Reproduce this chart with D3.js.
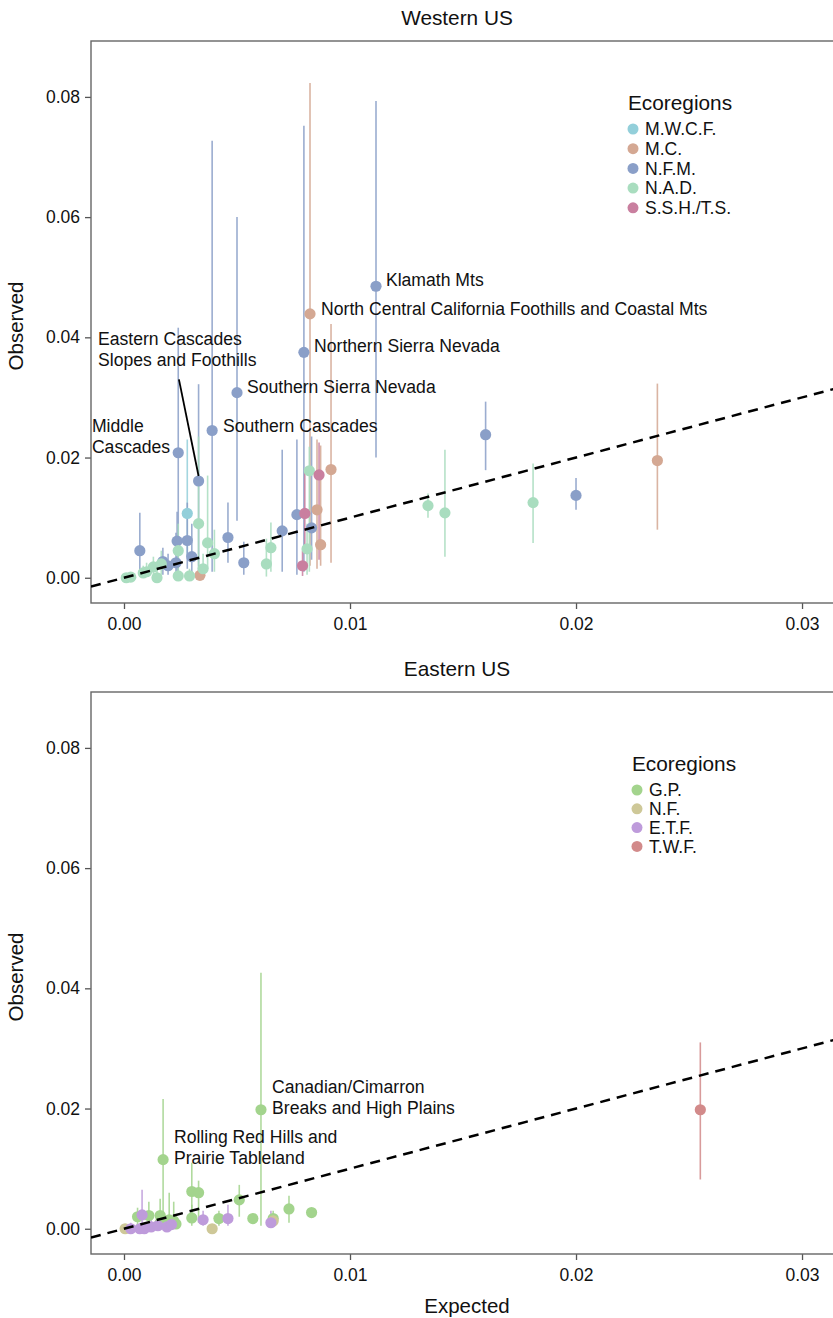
<!DOCTYPE html>
<html>
<head>
<meta charset="utf-8">
<script src="https://cdn.jsdelivr.net/npm/d3@7"></script>
<style>
  body { margin: 0; background: #fff; }
  svg { display: block; font-family: "Liberation Sans", Arial, Helvetica, sans-serif; }
</style>
</head>
<body>
<svg id="chart" width="833" height="1318"></svg>
<script>
// ---------------- DATA ----------------
const xTicks = [0, 0.01, 0.02, 0.03];
const yTicks = [0, 0.02, 0.04, 0.06, 0.08];
const panelTitles = ["Western US", "Eastern US"];
const xTitle = "Expected";
const yTitle = "Observed";
const legendTitle = "Ecoregions";

const westCategories = ["M.W.C.F.", "M.C.", "N.F.M.", "N.A.D.", "S.S.H./T.S."];
const westColors = ["#93cfda", "#d4a893", "#8a9fc8", "#a9ddbf", "#c97f9f"];
const eastCategories = ["G.P.", "N.F.", "E.T.F.", "T.W.F."];
const eastColors = ["#a3d48d", "#cec898", "#be9bdb", "#d28a8a"];

// [expected, observed, lower, upper]
const westMWCF = [
  [0.0028, 0.0107, 0.0035, 0.0230]
];
const westMC = [
  [0.00823, 0.0439, 0.0020, 0.0823],
  [0.00916, 0.0180, 0.0025, 0.0422],
  [0.00854, 0.0113, 0.0015, 0.0230],
  [0.0087, 0.0055, 0.0020, 0.0220],
  [0.00336, 0.0004, 0.0001, 0.0010],
  [0.0236, 0.0195, 0.0080, 0.0323]
];
const westNFM = [
  [0.01115, 0.0485, 0.0200, 0.0793],
  [0.00796, 0.0375, 0.0010, 0.0752],
  [0.0050, 0.0308, 0.0095, 0.0600],
  [0.0039, 0.0245, 0.0010, 0.0727],
  [0.0024, 0.0208, 0.0005, 0.0416],
  [0.0033, 0.0161, 0.0010, 0.0322],
  [0.0007, 0.0045, 0.0003, 0.0108],
  [0.00235, 0.0061, 0.0010, 0.0110],
  [0.0028, 0.0062, 0.0015, 0.0125],
  [0.0030, 0.0035, 0.0005, 0.0090],
  [0.00172, 0.0027, 0.0005, 0.0050],
  [0.00195, 0.0020, 0.0005, 0.0040],
  [0.0023, 0.0025, 0.0003, 0.0075],
  [0.0046, 0.0067, 0.0025, 0.0125],
  [0.0053, 0.0025, 0.0005, 0.0060],
  [0.0070, 0.0078, 0.0010, 0.0213],
  [0.00765, 0.0105, 0.0005, 0.0230],
  [0.0083, 0.0083, 0.0030, 0.0235],
  [0.0160, 0.0238, 0.0179, 0.0293],
  [0.0200, 0.0137, 0.0113, 0.0166]
];
const westNAD = [
  [0.0082, 0.0178, 0.0010, 0.0218],
  [0.0033, 0.0090, 0.0020, 0.0235],
  [0.0037, 0.0058, 0.0015, 0.0170],
  [0.0040, 0.0040, 0.0010, 0.0080],
  [0.0024, 0.0045, 0.0005, 0.0090],
  [0.0065, 0.0050, 0.0010, 0.0092],
  [0.0063, 0.0023, 0.0002, 0.0065],
  [0.0081, 0.0048, 0.0005, 0.0090],
  [0.0035, 0.0015, 0.0003, 0.0040],
  [0.0029, 0.0003, 0.0000, 0.0015],
  [0.0024, 0.0003, 0.0000, 0.0012],
  [0.00146, 0.0000, 0.0000, 0.0015],
  [0.00085, 0.0008, 0.0000, 0.0020],
  [0.0001, 0.0000, 0.0000, 0.0005],
  [0.0003, 0.0001, 0.0000, 0.0006],
  [0.0010, 0.0010, 0.0002, 0.0025],
  [0.0013, 0.0018, 0.0005, 0.0035],
  [0.00165, 0.0023, 0.0005, 0.0045],
  [0.01345, 0.0120, 0.0100, 0.0140],
  [0.0142, 0.0108, 0.0035, 0.0213],
  [0.0181, 0.0125, 0.0058, 0.0190]
];
const westSSH = [
  [0.00863, 0.0171, 0.0030, 0.0225],
  [0.0080, 0.0107, 0.0040, 0.0180],
  [0.0079, 0.0020, 0.0003, 0.0045]
];

const eastGP = [
  [0.00606, 0.0198, 0.0005, 0.0426],
  [0.00173, 0.0115, 0.0005, 0.0216],
  [0.0030, 0.0062, 0.0010, 0.0110],
  [0.0033, 0.0060, 0.0010, 0.0080],
  [0.0051, 0.0048, 0.0020, 0.0073],
  [0.0073, 0.0033, 0.0010, 0.0055],
  [0.0083, 0.0027, 0.0027, 0.0027],
  [0.0057, 0.0017, 0.0010, 0.0025],
  [0.0042, 0.0017, 0.0005, 0.0030],
  [0.0030, 0.0018, 0.0005, 0.0040],
  [0.0066, 0.0017, 0.0005, 0.0030],
  [0.0022, 0.0013, 0.0003, 0.0045],
  [0.0016, 0.0022, 0.0005, 0.0050],
  [0.0006, 0.0020, 0.0005, 0.0035],
  [0.0011, 0.0022, 0.0003, 0.0045],
  [0.0016, 0.0010, 0.0002, 0.0030],
  [0.0023, 0.0008, 0.0002, 0.0020],
  [0.0020, 0.0015, 0.0003, 0.0060]
];
const eastNF = [
  [0.00005, 0.0000, 0.0000, 0.0005],
  [0.0039, 0.0000, 0.0000, 0.0005],
  [0.0066, 0.0013, 0.0005, 0.0025]
];
const eastETF = [
  [0.0008, 0.0023, 0.0005, 0.0065],
  [0.0035, 0.0015, 0.0005, 0.0030],
  [0.0046, 0.0017, 0.0005, 0.0040],
  [0.0065, 0.0010, 0.0003, 0.0030],
  [0.0003, 0.0000, 0.0000, 0.0010],
  [0.0007, 0.0000, 0.0000, 0.0010],
  [0.0012, 0.0003, 0.0000, 0.0015],
  [0.0015, 0.0005, 0.0000, 0.0020],
  [0.0019, 0.0003, 0.0000, 0.0015],
  [0.0009, 0.0000, 0.0000, 0.0010],
  [0.0021, 0.0007, 0.0000, 0.0020]
];
const eastTWF = [
  [0.0255, 0.0198, 0.0082, 0.0310]
];

const westLabels = [
  {lines: ["Klamath Mts"], x: 0.01159, y: 0.0496},
  {lines: ["North Central California Foothills and Coastal Mts"], x: 0.00872, y: 0.0447},
  {lines: ["Northern Sierra Nevada"], x: 0.00841, y: 0.0386},
  {lines: ["Southern Sierra Nevada"], x: 0.00544, y: 0.0318},
  {lines: ["Southern Cascades"], x: 0.00438, y: 0.0253},
  {lines: ["Middle", "Cascades"], x: -0.00142, y: 0.0253},
  {lines: ["Eastern Cascades", "Slopes and Foothills"], x: -0.00115, y: 0.0398,
   leader: [0.00243, 0.0330, 0.0033, 0.0161]}
];
const eastLabels = [
  {lines: ["Canadian/Cimarron", "Breaks and High Plains"], x: 0.00655, y: 0.0236},
  {lines: ["Rolling Red Hills and", "Prairie Tableland"], x: 0.00221, y: 0.0153}
];

// ---------------- DRAW ----------------
const svg = d3.select("#chart");
const left = 91, right = 840;
const panels = [
  {top: 41, bottom: 603, title: panelTitles[0], series: [westMWCF, westMC, westNFM, westNAD, westSSH],
   cats: westCategories, colors: westColors, labels: westLabels, legendX: 628, legendY: 103, legendStep: 19.7, showX: false},
  {top: 692, bottom: 1254, title: panelTitles[1], series: [eastGP, eastNF, eastETF, eastTWF],
   cats: eastCategories, colors: eastColors, labels: eastLabels, legendX: 632, legendY: 764, legendStep: 18.8, showX: true}
];

const x = d3.scaleLinear().domain([-0.00146, 0.03168]).range([left, right]);

panels.forEach((p, pi) => {
  const y = d3.scaleLinear().domain([-0.0042, 0.0893]).range([p.bottom, p.top]);
  const g = svg.append("g");
  const clipId = "clip" + pi;
  svg.append("clipPath").attr("id", clipId).append("rect")
    .attr("x", left).attr("y", p.top).attr("width", right - left).attr("height", p.bottom - p.top);

  g.append("text").attr("x", 457).attr("y", p.top - 16).attr("text-anchor", "middle")
    .attr("font-size", 20.8).attr("fill", "#111").text(p.title);

  const ya = g.append("g").attr("transform", `translate(${left},0)`)
    .call(d3.axisLeft(y).tickValues(yTicks).tickFormat(d3.format(".2f")).tickSize(6).tickPadding(5));
  const xa = g.append("g").attr("transform", `translate(0,${p.bottom})`)
    .call(d3.axisBottom(x).tickValues(xTicks).tickFormat(d3.format(".2f")).tickSize(6).tickPadding(9));
  [ya, xa].forEach(a => {
    a.select(".domain").remove();
    a.selectAll(".tick line").attr("stroke", "#555").attr("stroke-width", 1.3);
    a.selectAll(".tick text").attr("font-size", 17.5).attr("fill", "#111")
      .attr("font-family", '"Liberation Sans", Arial, Helvetica, sans-serif');
  });

  g.append("rect").attr("x", left).attr("y", p.top).attr("width", right - left).attr("height", p.bottom - p.top)
    .attr("fill", "none").attr("stroke", "#666").attr("stroke-width", 1.4);

  g.append("text").attr("transform", `translate(23,${(p.top + p.bottom) / 2 + 4}) rotate(-90)`)
    .attr("text-anchor", "middle").attr("font-size", 20.5).attr("fill", "#111").text(yTitle);

  if (p.showX) {
    g.append("text").attr("x", 467).attr("y", p.bottom + 59).attr("text-anchor", "middle")
      .attr("font-size", 20.5).attr("fill", "#111").text(xTitle);
  }

  const plot = g.append("g").attr("clip-path", `url(#${clipId})`);

  p.series.forEach((s, si) => {
    plot.append("g").selectAll("line").data(s).join("line")
      .attr("x1", d => x(d[0])).attr("x2", d => x(d[0]))
      .attr("y1", d => y(d[2])).attr("y2", d => y(d[3]))
      .attr("stroke", p.colors[si]).attr("stroke-width", 1.6).attr("opacity", 0.85);
  });
  p.series.forEach((s, si) => {
    plot.append("g").selectAll("circle").data(s).join("circle")
      .attr("cx", d => x(d[0])).attr("cy", d => y(d[1])).attr("r", 5.6)
      .attr("fill", p.colors[si]);
  });

  const dom = x.domain();
  plot.append("line")
    .attr("x1", x(dom[0])).attr("y1", y(dom[0]))
    .attr("x2", x(dom[1])).attr("y2", y(dom[1]))
    .attr("stroke", "#000").attr("stroke-width", 2.5).attr("stroke-dasharray", "10,7");

  p.labels.forEach(l => {
    const t = g.append("text").attr("font-size", 17.6).attr("fill", "#111");
    l.lines.forEach((line, i) => {
      t.append("tspan").attr("x", x(l.x)).attr("y", y(l.y) + i * 21).attr("dy", "0.36em").text(line);
    });
    if (l.leader) {
      g.append("line")
        .attr("x1", x(l.leader[0])).attr("y1", y(l.leader[1]))
        .attr("x2", x(l.leader[2])).attr("y2", y(l.leader[3]) - 5)
        .attr("stroke", "#000").attr("stroke-width", 1.8);
    }
  });

  const lg = g.append("g");
  lg.append("text").attr("x", p.legendX).attr("y", p.legendY).attr("dy", "0.36em")
    .attr("font-size", 20.8).attr("fill", "#111").text(legendTitle);
  p.cats.forEach((c, i) => {
    const cy = p.legendY + 26 + i * p.legendStep;
    lg.append("circle").attr("cx", p.legendX + 5).attr("cy", cy).attr("r", 5.5).attr("fill", p.colors[i]);
    lg.append("text").attr("x", p.legendX + 17).attr("y", cy).attr("dy", "0.36em")
      .attr("font-size", 17.6).attr("fill", "#111").text(c);
  });
});
</script>
</body>
</html>
